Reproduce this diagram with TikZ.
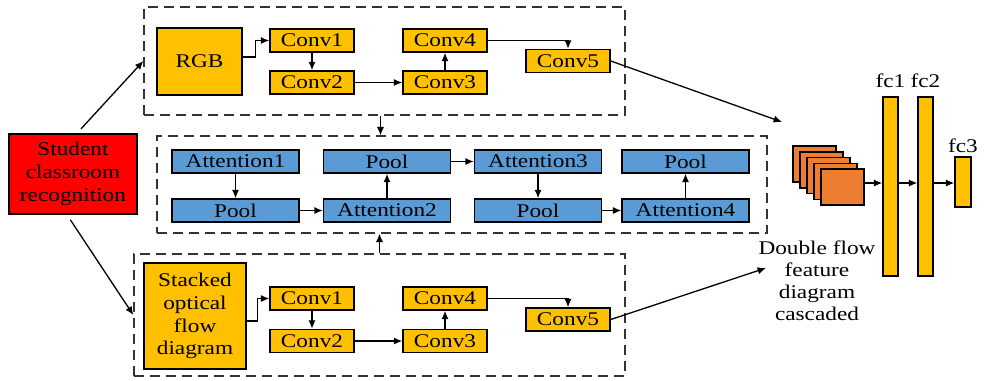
\documentclass[tikz,border=0pt]{standalone}
\usepackage{fontspec}
\setmainfont{Liberation Serif}[FakeStretch=1.2]
\usetikzlibrary{arrows.meta}

\definecolor{convyellow}{HTML}{FFC000}
\definecolor{attblue}{HTML}{5B9BD5}
\definecolor{fmorange}{HTML}{ED7D31}

\begin{document}
\begin{tikzpicture}[x=0.5pt, y=-0.5pt, >={Latex[length=4.2pt,width=3.6pt]},
    font=\fontsize{9.7pt}{11.4pt}\selectfont,
    convbox/.style={draw, line width=0.75pt, fill=convyellow, minimum width=42pt, minimum height=11.5pt, inner sep=0pt},
    attbox/.style={draw, line width=0.75pt, fill=attblue, minimum width=63.5pt, minimum height=11.5pt, inner sep=0pt},
    grpbox/.style={draw=black!80, dash pattern=on 5pt off 3pt, line width=0.65pt, inner sep=0pt},
    fcbar/.style={draw, line width=0.75pt, fill=convyellow, minimum width=7.5pt, inner sep=0pt},
    fmap/.style={draw, line width=0.75pt, fill=fmorange, minimum width=21.5pt, minimum height=18pt, inner sep=0pt},
    link/.style={->, line width=0.65pt}]
    \useasboundingbox (0,0) rectangle (984,380);

    % 三个虚线框
    \node[grpbox, minimum width=240.5pt, minimum height=54pt] (topgrp) at (384.5,61) {};
    \node[grpbox, minimum width=305pt, minimum height=48.5pt] (attgrp) at (462,184.5) {};
    \node[grpbox, minimum width=245.5pt, minimum height=61pt] (botgrp) at (379.5,315) {};

    % 输入
    \node[draw, line width=0.75pt, fill=red, minimum width=64pt, minimum height=40pt, inner sep=0pt, align=center]
        (student) at (73,174) {Student\\classroom\\recognition};

    % 上支路 RGB
    \node[draw, line width=0.75pt, fill=convyellow, minimum width=42.5pt, minimum height=33.5pt, inner sep=0pt]
        (rgb) at (199.5,61.5) {RGB};
    \node[convbox] (c1t) at (312,40.5) {Conv1};
    \node[convbox] (c2t) at (312,82.5) {Conv2};
    \node[convbox] (c3t) at (445,82.5) {Conv3};
    \node[convbox] (c4t) at (445,40.5) {Conv4};
    \node[convbox] (c5t) at (568,61) {Conv5};

    % 中间注意力模块
    \node[attbox] (att1) at (235.5,161.5) {Attention1};
    \node[attbox] (pool1) at (235.5,210.5) {Pool};
    \node[attbox] (att2) at (387,210.5) {Attention2};
    \node[attbox] (pool2) at (387,161.5) {Pool};
    \node[attbox] (att3) at (538,161.5) {Attention3};
    \node[attbox] (pool3) at (538,210.5) {Pool};
    \node[attbox] (att4) at (685.5,210.5) {Attention4};
    \node[attbox] (pool4) at (685.5,161.5) {Pool};

    % 下支路 光流
    \node[draw, line width=0.75pt, fill=convyellow, minimum width=51pt, minimum height=53pt, inner sep=0pt, align=center]
        (flow) at (195,316) {Stacked\\optical\\flow\\diagram};
    \node[convbox] (c1b) at (312,298.5) {Conv1};
    \node[convbox] (c2b) at (312,341) {Conv2};
    \node[convbox] (c3b) at (445,341) {Conv3};
    \node[convbox] (c4b) at (445,298.5) {Conv4};
    \node[convbox] (c5b) at (568,319.5) {Conv5};

    % 特征图与全连接层
    \foreach \i in {4,...,0}
        \node[fmap] (fm\i) at ({842.5-7*\i},{187-5.75*\i}) {};
    \node[fcbar, minimum height=89.5pt] (fc1) at (890.5,186.5) {};
    \node[fcbar, minimum height=89.5pt] (fc2) at (925.5,186.5) {};
    \node[fcbar, minimum width=8pt, minimum height=25pt] (fc3) at (963,182) {};
    \node[anchor=base] (fc1lbl) at (890.5,87) {fc1};
    \node[anchor=base] (fc2lbl) at (925.5,87) {fc2};
    \node[anchor=base] (fc3lbl) at (963,152) {fc3};
    \node[align=center, font=\fontsize{9.7pt}{11pt}\selectfont] (cascade) at (817,281)
        {Double flow\\feature\\diagram\\cascaded};
    \coordinate (fmin) at (782,122);
    \coordinate (cascin) at (766,268);

    % 连线
    \draw[link, shorten <=3pt] ([xshift=2pt]student.north) -- (topgrp.west);
    \draw[link, shorten <=3pt] ([xshift=-3pt]student.south) -- (botgrp.west);

    \draw[link] ([yshift=2.25pt]rgb.east) -- ++(13,0) |- (c1t.west);
    \draw[link] (c1t) -- (c2t);
    \draw[link] (c2t) -- (c3t);
    \draw[link] (c3t) -- (c4t);
    \draw[link] (c4t.east) -| (c5t.north);
    \draw[link] (c5t.east) -- (fmin);

    \draw[link] ([xshift=-2pt]topgrp.south) -- ([xshift=-2pt]topgrp.south |- attgrp.north);
    \draw[link] (botgrp.north) -- (botgrp.north |- attgrp.south);

    \draw[link] (att1) -- (pool1);
    \draw[link] (pool1) -- (att2);
    \draw[link] (att2) -- (pool2);
    \draw[link] (pool2) -- (att3);
    \draw[link] (att3) -- (pool3);
    \draw[link] (pool3) -- (att4);
    \draw[link] (att4) -- (pool4);

    \draw[link] ([yshift=-2.5pt]flow.east) -- ++(11,0) |- (c1b.west);
    \draw[link] (c1b) -- (c2b);
    \draw[link] (c2b) -- (c3b);
    \draw[link] (c3b) -- (c4b);
    \draw[link] (c4b.east) -| (c5b.north);
    \draw[link] (c5b.east) -- (cascin);

    \draw[link] ([yshift=2pt]fm0.east) -- ([yshift=2pt]fm0.east -| fc1.west);
    \draw[link] ([yshift=2pt]fm0.east -| fc1.east) -- ([yshift=2pt]fm0.east -| fc2.west);
    \draw[link] ([yshift=2pt]fm0.east -| fc2.east) -- ([yshift=2pt]fm0.east -| fc3.west);
\end{tikzpicture}
\end{document}
